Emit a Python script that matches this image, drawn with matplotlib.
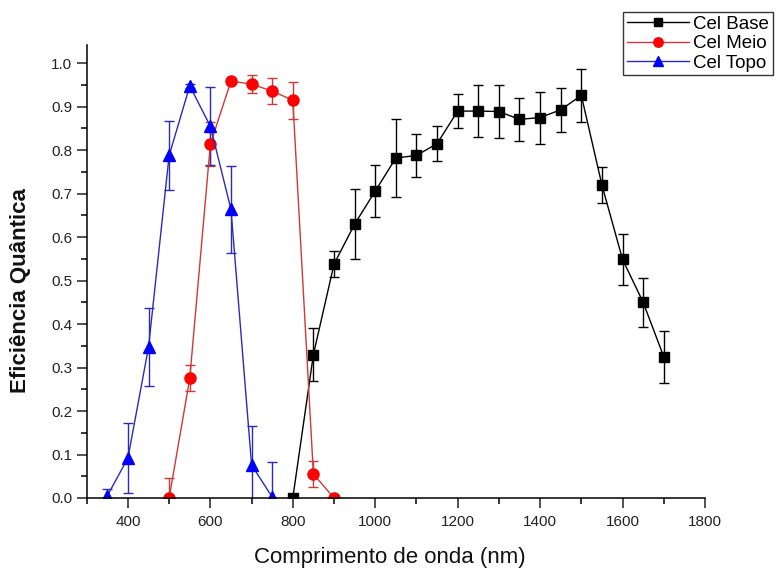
import matplotlib
matplotlib.use("Agg")
import matplotlib.pyplot as plt
from matplotlib.lines import Line2D
from matplotlib.ticker import MultipleLocator, FormatStrFormatter

plt.rcParams["font.family"] = ["Liberation Sans", "DejaVu Sans"]

# =========================
# DATA
# =========================
base_x = [800, 850, 900, 950, 1000, 1050, 1100, 1150, 1200, 1250,
          1300, 1350, 1400, 1450, 1500, 1550, 1600, 1650, 1700]
base_y = [0.0, 0.330, 0.538, 0.630, 0.706, 0.782, 0.788, 0.815, 0.890, 0.890,
          0.889, 0.871, 0.875, 0.893, 0.926, 0.720, 0.549, 0.450, 0.325]
base_err = [0.0, 0.06, 0.03, 0.08, 0.06, 0.09, 0.05, 0.04, 0.04, 0.06,
            0.06, 0.05, 0.06, 0.05, 0.06, 0.042, 0.058, 0.056, 0.06]

meio_x = [500, 550, 600, 650, 700, 750, 800, 850, 900]
meio_y = [0.0, 0.275, 0.814, 0.959, 0.952, 0.936, 0.915, 0.055, 0.0]
meio_err = [0.047, 0.03, 0.05, 0.006, 0.02, 0.03, 0.043, 0.03, 0.0]

topo_x = [350, 400, 450, 500, 550, 600, 650, 700, 750]
topo_y = [0.005, 0.092, 0.347, 0.788, 0.948, 0.855, 0.664, 0.076, 0.002]
topo_err = [0.015, 0.08, 0.09, 0.08, 0.005, 0.09, 0.1, 0.09, 0.08]

x_ticks = [400, 600, 800, 1000, 1200, 1400, 1600, 1800]

series = [
    ("Cel Base", base_x, base_y, base_err, "black", "black", "s", 7.5),
    ("Cel Meio", meio_x, meio_y, meio_err, "#d03838", "#ff0000", "o", 8),
    ("Cel Topo", topo_x, topo_y, topo_err, "#2b2bb5", "#0000ff", "^", 8.5),
]

# =========================
# PLOT
# =========================
fig = plt.figure(figsize=(7.77, 5.69), dpi=100)
ax = fig.add_axes([0.1116, 0.1248, 0.7957, 0.7961])

handles = []
for label, xs, ys, errs, line_color, marker_color, marker, size in series:
    ax.errorbar(xs, ys, yerr=errs, color=line_color, marker=marker,
                ms=size, mfc=marker_color, mec=marker_color, lw=1,
                elinewidth=1, capsize=3.5, capthick=1)
    handles.append(Line2D([], [], color=line_color, marker=marker,
                          ms=size * 0.85, mfc=marker_color, mec=marker_color,
                          lw=1, label=label))

ax.set_xlim(300, 1800)
ax.set_ylim(0, 1.042)
ax.set_xticks(x_ticks)
ax.xaxis.set_minor_locator(MultipleLocator(100))
ax.yaxis.set_major_locator(MultipleLocator(0.1))
ax.yaxis.set_minor_locator(MultipleLocator(0.05))
ax.yaxis.set_major_formatter(FormatStrFormatter("%.1f"))

for side in ["top", "right"]:
    ax.spines[side].set_visible(False)
for side in ["left", "bottom"]:
    ax.spines[side].set_linewidth(1.1)

ax.tick_params(which="major", direction="out", length=7, width=1.1,
               labelsize=11, colors="#222222")
ax.tick_params(which="minor", direction="out", length=4, width=1.1)
ax.tick_params(axis="x", which="major", pad=5)

ax.set_xlabel("Comprimento de onda (nm)", fontsize=16, color="#111111")
ax.xaxis.set_label_coords(0.49, -0.108)
ax.xaxis.label.set_va("top")
ax.set_ylabel("Eficiência Quântica", fontsize=16, fontweight="bold",
              color="#111111")
ax.yaxis.set_label_coords(-0.09, 0.459)

leg = ax.legend(handles=handles, loc="upper left",
                bbox_to_anchor=(0.802, 0.979), bbox_transform=fig.transFigure,
                fontsize=13.5, frameon=True, fancybox=False,
                edgecolor="black", handlelength=3.3, handletextpad=0.25,
                borderpad=0.2, labelspacing=0.12, borderaxespad=0)
leg.get_frame().set_linewidth(1)

fig.savefig("out.png", dpi=100)
